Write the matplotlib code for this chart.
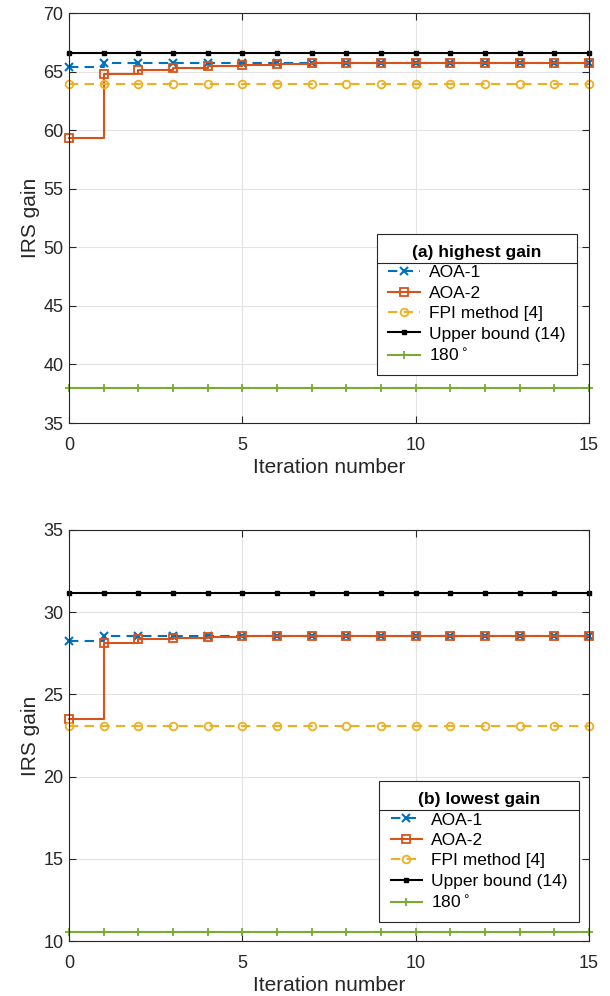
import numpy as np
import matplotlib
matplotlib.use("Agg")
import matplotlib.pyplot as plt
from matplotlib.lines import Line2D

plt.rcParams['font.family'] = ['Liberation Sans', 'DejaVu Sans']

it = np.arange(0, 16)

# (a) highest gain
a_aoa1 = [65.4] + [65.75] * 15
a_aoa2 = [59.35, 64.8, 65.1, 65.3, 65.5, 65.6, 65.65, 65.7, 65.7, 65.7, 65.7, 65.7, 65.7, 65.7, 65.7, 65.7]
a_fpi = [63.9] * 16
a_ub = [66.6] * 16
a_180 = [37.95] * 16

# (b) lowest gain
b_aoa1 = [28.25] + [28.55] * 15
b_aoa2 = [23.5, 28.1, 28.35, 28.45, 28.5, 28.55, 28.55, 28.55, 28.55, 28.55, 28.55, 28.55, 28.55, 28.55, 28.55, 28.55]
b_fpi = [23.07] * 16
b_ub = [31.15] * 16
b_180 = [10.57] * 16

labels = ['AOA-1', 'AOA-2', 'FPI method [4]', 'Upper bound (14)', r'180$^\circ$']
c_blue, c_red, c_yel, c_grn = '#0072BD', '#D95319', '#EDB120', '#77AC30'
txt = '#262626'

fig = plt.figure(figsize=(6.1, 9.96), dpi=100)
ax1 = fig.add_axes([0.113, 0.5753, 0.8526, 0.4116])
ax2 = fig.add_axes([0.113, 0.0552, 0.8526, 0.4127])


def draw(ax, aoa1, aoa2, fpi, ub, s180, ylim, yticks, title, anchor):
    kw = dict(clip_on=False, lw=1.5)
    ax.step(it, aoa1, where='post', color=c_blue, ls=(0, (4.5, 3)),
            marker='x', ms=6, mew=1.5, label=labels[0], **kw)
    ax.step(it, aoa2, where='post', color=c_red,
            marker='s', ms=5.5, mfc='none', mew=1.3, label=labels[1], **kw)
    ax.plot(it, fpi, color=c_yel, ls=(0, (4.5, 3)),
            marker='o', ms=5.5, mfc='none', mew=1.3, label=labels[2], **kw)
    ax.plot(it, ub, color='black', marker='s', ms=3.5, label=labels[3], **kw)
    ax.plot(it, s180, color=c_grn, marker='+', ms=6, mew=1.3, label=labels[4], **kw)
    ax.set_xlim(0, 15)
    ax.set_ylim(*ylim)
    ax.set_xticks([0, 5, 10, 15])
    ax.set_yticks(yticks)
    ax.grid(True, color='#e3e3e3', lw=0.8)
    ax.set_axisbelow(True)
    ax.tick_params(direction='in', top=True, right=True, labelsize=13, colors=txt, length=5)
    ax.tick_params(axis='x', pad=10)
    ax.tick_params(axis='y', pad=4)
    for sp in ax.spines.values():
        sp.set_color(txt)
    ax.set_xlabel('Iteration number', fontsize=15, color=txt, labelpad=3)
    ax.set_ylabel('IRS gain', fontsize=15, color=txt, labelpad=2)
    leg = ax.legend(loc='lower right', bbox_to_anchor=anchor, fontsize=12.5,
                    title=title, title_fontproperties={'weight': 'bold', 'size': 12.5},
                    fancybox=False, edgecolor=txt, framealpha=1,
                    handlelength=1.8, handletextpad=0.55, labelspacing=0.3,
                    borderpad=0.65, borderaxespad=0)
    leg.get_frame().set_linewidth(0.8)
    for t in leg.get_texts():
        t.set_color('black')
    return leg


leg1 = draw(ax1, a_aoa1, a_aoa2, a_fpi, a_ub, a_180, (35, 70), range(35, 71, 5),
            '(a) highest gain', (0.977, 0.117))
leg2 = draw(ax2, b_aoa1, b_aoa2, b_fpi, b_ub, b_180, (10, 35), range(10, 36, 5),
            '(b) lowest gain', (0.981, 0.046))

# separator line under legend title (MATLAB style)
fig.canvas.draw()
r = fig.canvas.get_renderer()
inv = fig.transFigure.inverted()
for leg in (leg1, leg2):
    fb = leg.get_frame().get_window_extent(r)
    tb = leg.get_title().get_window_extent(r)
    y = tb.y0 - 3
    (x0, yy), (x1, _) = inv.transform([(fb.x0, y), (fb.x1, y)])
    fig.add_artist(Line2D([x0, x1], [yy, yy], color=txt, lw=0.8, transform=fig.transFigure))

fig.savefig('out.png', dpi=100)
